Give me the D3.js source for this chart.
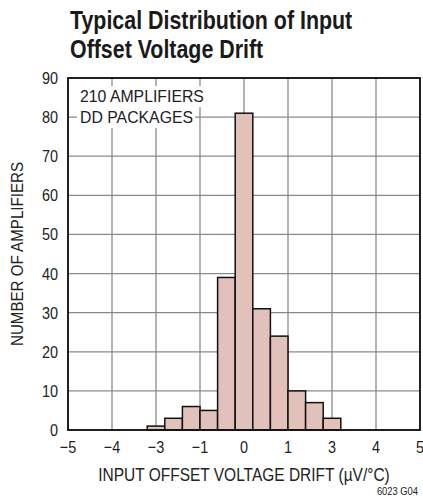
<!DOCTYPE html>
<html>
<head>
  <title>Input offset voltage drift distribution</title>
  <style type="text/css">
    body { margin: 0; background: #fff; }
    svg text { font-family: "Liberation Sans", Arial, sans-serif; fill: #222; }
  </style>
</head>
<body>

<div id="chart"></div>

<script src="https://d3js.org/d3.v7.min.js"></script>
<script type="text/javascript">
// histogram bins (drift, uV/C) and counts
var binStart = [-2.2, -1.8, -1.4, -1.0, -0.6, -0.2, 0.2, 0.6, 1.0, 1.4, 1.8];
var binEnd   = [-1.8, -1.4, -1.0, -0.6, -0.2, 0.2, 0.6, 1.0, 1.4, 1.8, 2.2];
var counts   = [1, 3, 6, 5, 39, 81, 31, 24, 10, 7, 3];

// grid positions and the labels printed under them
var xTicks = [-4, -3, -2, -1, 0, 1, 2, 3, 4];
var xTickLabels = ["\u22125", "\u22124", "\u22123", "\u22121", "0", "1", "3", "4", "5"];
var yTicks = [0, 10, 20, 30, 40, 50, 60, 70, 80, 90];

var width = 423, height = 500;
var margin = {top: 78, right: 3, bottom: 70, left: 68};

// squeeze text horizontally, the original uses a condensed face
function narrow(sel, k) {
  sel.each(function() {
    var len = this.getComputedTextLength();
    d3.select(this).attr("textLength", len * k).attr("lengthAdjust", "spacingAndGlyphs");
  });
}

var svg = d3.select("#chart")
  .append("svg")
  .attr("width", width)
  .attr("height", height);

var x = d3.scaleLinear().domain([-4, 4]).range([margin.left, width - margin.right]);
var y = d3.scaleLinear().domain([0, 90]).range([height - margin.bottom, margin.top]);

// grid
svg.append("g")
  .selectAll("line.v")
  .data(xTicks)
  .enter().append("line")
    .attr("x1", d => x(d)).attr("x2", d => x(d))
    .attr("y1", y(0)).attr("y2", y(90))
    .attr("stroke", "#8a8a8a")
    .attr("stroke-width", 1.3);

svg.append("g")
  .selectAll("line.h")
  .data(yTicks)
  .enter().append("line")
    .attr("x1", x(-4)).attr("x2", x(4))
    .attr("y1", d => y(d)).attr("y2", d => y(d))
    .attr("stroke", "#8a8a8a")
    .attr("stroke-width", 1.3);

// note box (white behind each line)
var notes = ["210 AMPLIFIERS", "DD PACKAGES"];
var noteG = svg.append("g");
notes.forEach(function(t, i) {
  var tx = noteG.append("text")
    .attr("x", 80)
    .attr("y", 102 + i * 21)
    .attr("font-size", 17)
    .text(t);
  narrow(tx, 0.93);
  var bb = tx.node().getBBox();
  noteG.insert("rect", "text")
    .attr("x", bb.x - 3)
    .attr("y", bb.y - 1)
    .attr("width", bb.width + 5)
    .attr("height", bb.height + 2)
    .attr("fill", "#fff");
});

// bars
svg.append("g")
  .selectAll("rect")
  .data(counts)
  .enter().append("rect")
    .attr("x", (d, i) => x(binStart[i]))
    .attr("width", (d, i) => x(binEnd[i]) - x(binStart[i]))
    .attr("y", d => y(d))
    .attr("height", d => y(0) - y(d))
    .attr("fill", "#e3c1bb")
    .attr("stroke", "#111")
    .attr("stroke-width", 1.5);

// frame
svg.append("rect")
  .attr("x", x(-4)).attr("y", y(90))
  .attr("width", x(4) - x(-4))
  .attr("height", y(0) - y(90))
  .attr("fill", "none")
  .attr("stroke", "#111")
  .attr("stroke-width", 1.8);

// tick labels
svg.append("g")
  .selectAll("text")
  .data(yTicks)
  .enter().append("text")
    .attr("x", x(-4) - 10)
    .attr("y", d => y(d) + 6)
    .attr("text-anchor", "end")
    .attr("font-size", 17)
    .text(d => d)
    .call(narrow, 0.85);

svg.append("g")
  .selectAll("text")
  .data(xTicks)
  .enter().append("text")
    .attr("x", d => x(d))
    .attr("y", y(0) + 23)
    .attr("text-anchor", "middle")
    .attr("font-size", 17)
    .text((d, i) => xTickLabels[i])
    .call(narrow, 0.85);

// axis titles
svg.append("text")
  .attr("x", (x(-4) + x(4)) / 2)
  .attr("y", 481)
  .attr("text-anchor", "middle")
  .attr("font-size", 18)
  .text("INPUT OFFSET VOLTAGE DRIFT (\u00b5V/\u00b0C)")
  .call(narrow, 0.86);

svg.append("text")
  .attr("transform", "translate(23," + ((y(0) + y(90)) / 2) + ")rotate(-90)")
  .attr("text-anchor", "middle")
  .attr("font-size", 17)
  .text("NUMBER OF AMPLIFIERS")
  .call(narrow, 0.89);

svg.append("text")
  .attr("x", 418)
  .attr("y", 495)
  .attr("text-anchor", "end")
  .attr("font-size", 11)
  .text("6023 G04")
  .call(narrow, 0.85);

// title
var title = svg.append("text")
  .attr("font-size", 25)
  .attr("font-weight", "bold")
  .style("fill", "#1a1a1a");
title.append("tspan").attr("x", 70).attr("y", 29).text("Typical Distribution of Input");
title.append("tspan").attr("x", 70).attr("y", 58).text("Offset Voltage Drift");
title.selectAll("tspan").call(narrow, 0.855);
</script>
</body>
</html>
